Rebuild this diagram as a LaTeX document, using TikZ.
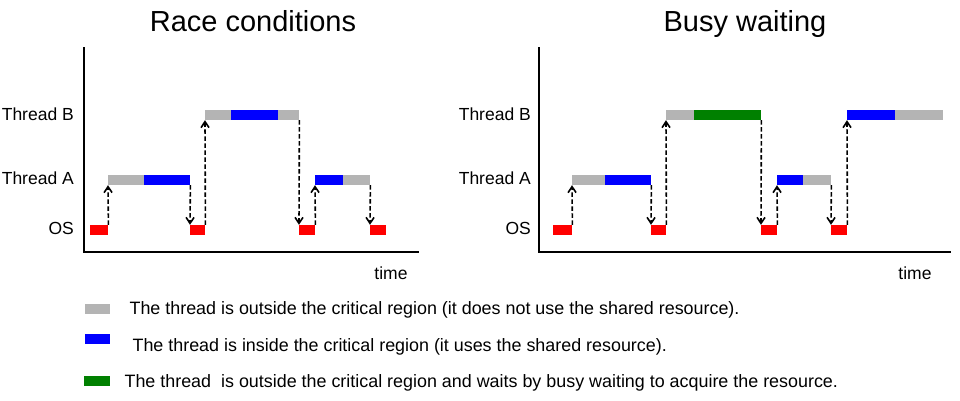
\documentclass[tikz,border=0pt]{standalone}
\usepackage{fontspec}
\setmainfont{Liberation Sans}
\usetikzlibrary{arrows.meta,positioning}

\definecolor{outgray}{RGB}{180,180,180}
\definecolor{inblue}{RGB}{0,0,255}
\definecolor{osred}{RGB}{255,0,0}
\definecolor{busygreen}{RGB}{0,128,0}

\tikzset{
  seg/.style={rectangle,inner sep=0pt,minimum height=10pt,anchor=west,fill=#1},
  axisline/.style={line width=2.4pt,line cap=rect},
  switch/.style={dashed,dash pattern=on 4.5pt off 2.5pt,line width=1.6pt,
    -{Straight Barb[length=6pt,width=8pt,line width=1.6pt]}},
  rowlabel/.style={anchor=east,inner sep=0pt,font=\fontsize{17.5}{21}\selectfont},
  title/.style={anchor=base,inner sep=0pt,font=\fontsize{29}{34}\selectfont},
  legtext/.style={anchor=west,inner sep=0pt,font=\fontsize{17.9}{21}\selectfont},
}

\begin{document}
\begin{tikzpicture}[x=1pt,y=-1pt]
    \useasboundingbox (0,0) rectangle (960,400);

    % ---- Race conditions ----
    \node[title] (racetitle) at (253,31) {Race conditions};
    \draw[axisline] (84,48) -- (84,252) -- (418,252);
    \node[rowlabel] (lb) at (74,114) {Thread B};
    \node[rowlabel] (la) at (74,178) {Thread A};
    \node[rowlabel] (los) at (74,228) {OS};
    \node[anchor=base,inner sep=0pt,font=\fontsize{17.5}{21}\selectfont] (ltime) at (391,279) {time};

    \node[seg=osred,    minimum width=18] (los1) at (90,230) {};
    \node[seg=outgray,  minimum width=36] (la1o) at (108,180) {};
    \node[seg=inblue,   minimum width=46] (la1i) at (144,180) {};
    \node[seg=osred,    minimum width=15] (los2) at (190,230) {};
    \node[seg=outgray,  minimum width=26] (lb1o) at (205,115) {};
    \node[seg=inblue,   minimum width=47] (lb1i) at (231,115) {};
    \node[seg=outgray,  minimum width=21] (lb1p) at (278,115) {};
    \node[seg=osred,    minimum width=16] (los3) at (299,230) {};
    \node[seg=inblue,   minimum width=28] (la2i) at (315,180) {};
    \node[seg=outgray,  minimum width=27] (la2o) at (343,180) {};
    \node[seg=osred,    minimum width=16] (los4) at (370,230) {};

    \draw[switch] (los1.north east) -- (la1o.south west);
    \draw[switch] (la1i.south east) -- (los2.north west);
    \draw[switch] (los2.north east) -- (lb1o.south west);
    \draw[switch] (lb1p.south east) -- (los3.north west);
    \draw[switch] (los3.north east) -- (la2i.south west);
    \draw[switch] (la2o.south east) -- (los4.north west);

    % ---- Busy waiting ----
    \node[title] (busytitle) at (745,31) {Busy waiting};
    \draw[axisline] (539,48) -- (539,252) -- (950,252);
    \node[rowlabel] (rb) at (531,114) {Thread B};
    \node[rowlabel] (ra) at (531,178) {Thread A};
    \node[rowlabel] (ros) at (531,228) {OS};
    \node[anchor=base,inner sep=0pt,font=\fontsize{17.5}{21}\selectfont] (rtime) at (915,279) {time};

    \node[seg=osred,     minimum width=19] (ros1) at (553,230) {};
    \node[seg=outgray,   minimum width=33] (ra1o) at (572,180) {};
    \node[seg=inblue,    minimum width=46] (ra1i) at (605,180) {};
    \node[seg=osred,     minimum width=15] (ros2) at (651,230) {};
    \node[seg=outgray,   minimum width=28] (rb1o) at (666,115) {};
    \node[seg=busygreen, minimum width=67] (rb1w) at (694,115) {};
    \node[seg=osred,     minimum width=16] (ros3) at (761,230) {};
    \node[seg=inblue,    minimum width=26] (ra2i) at (777,180) {};
    \node[seg=outgray,   minimum width=28] (ra2o) at (803,180) {};
    \node[seg=osred,     minimum width=16] (ros4) at (831,230) {};
    \node[seg=inblue,    minimum width=48] (rb2i) at (847,115) {};
    \node[seg=outgray,   minimum width=48] (rb2o) at (895,115) {};

    \draw[switch] (ros1.north east) -- (ra1o.south west);
    \draw[switch] (ra1i.south east) -- (ros2.north west);
    \draw[switch] (ros2.north east) -- (rb1o.south west);
    \draw[switch] (rb1w.south east) -- (ros3.north west);
    \draw[switch] (ros3.north east) -- (ra2i.south west);
    \draw[switch] (ra2o.south east) -- (ros4.north west);
    \draw[switch] (ros4.north east) -- (rb2i.south west);

    % ---- legend ----
    \node[seg=outgray,   minimum width=25] (keyout) at (85,309) {};
    \node[seg=inblue,    minimum width=25] (keyin) at (85,339) {};
    \node[seg=busygreen, minimum width=26] (keybusy) at (84,381) {};
    \node[legtext, right=19pt of keyout, yshift=-1pt] (txtout)
      {The thread is outside the critical region (it does not use the shared resource).};
    \node[legtext, right=22pt of keyin, yshift=-8pt] (txtin)
      {The thread is inside the critical region (it uses the shared resource).};
    \node[legtext, right=14pt of keybusy, yshift=-2pt] (txtbusy)
      {The thread~ is outside the critical region and waits by busy waiting to acquire the resource.};
\end{tikzpicture}
\end{document}
